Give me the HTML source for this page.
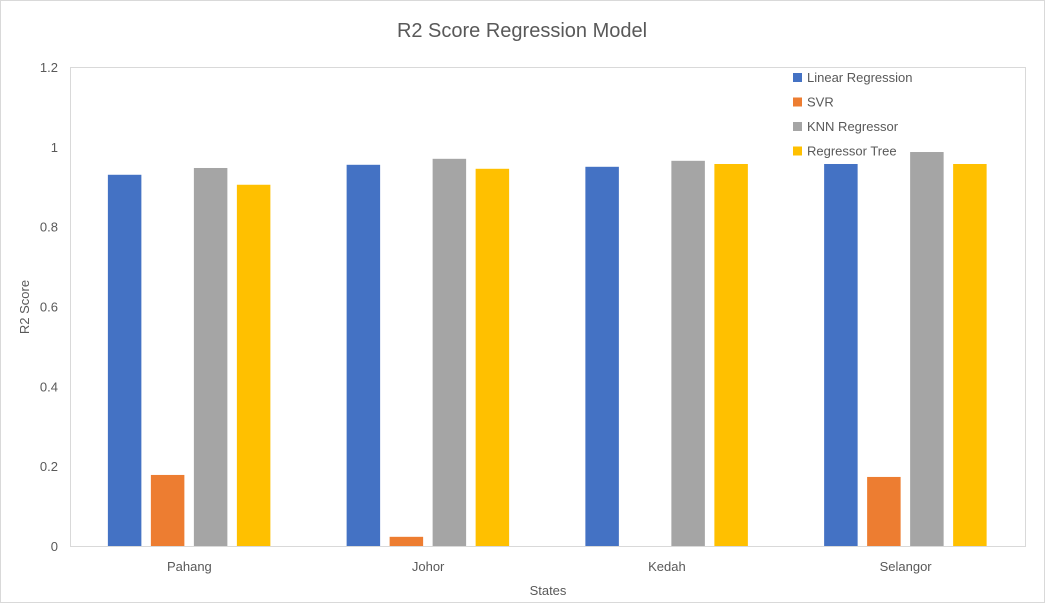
<!DOCTYPE html>
<html><head><meta charset="utf-8"><style>
body{margin:0;background:#fff;font-family:"Liberation Sans",sans-serif}
svg text{font-family:"Liberation Sans",sans-serif;fill:#595959}
</style></head><body>
<svg id="c" width="1045" height="603">
<rect x="0.5" y="0.5" width="1044" height="602" fill="#fff" stroke="#d9d9d9"/>
<text x="522" y="37" text-anchor="middle" font-size="20">R2 Score Regression Model</text>
<rect x="70.5" y="67.5" width="955" height="479" fill="none" stroke="#d9d9d9"/>
<text transform="translate(29,307) rotate(-90)" text-anchor="middle" font-size="13">R2 Score</text>
<text x="548" y="595" text-anchor="middle" font-size="13">States</text>
<g id="bars"></g><g id="ticks"></g><g id="legend"></g>
</svg>
<script>
const categories=["Pahang","Johor","Kedah","Selangor"];
const seriesNames=["Linear Regression","SVR","KNN Regressor","Regressor Tree"];
const linearRegression=[0.930,0.955,0.950,0.957];
const svr=[0.178,0.023,0,0.173];
const knn=[0.947,0.970,0.965,0.987];
const regressorTree=[0.905,0.945,0.957,0.957];
const yTicks=[0,0.2,0.4,0.6,0.8,1,1.2];
const tickLabels=["0","0.2","0.4","0.6","0.8","1","1.2"];
const colors=["#4472c4","#ed7d31","#a5a5a5","#ffc000"];
const series=[linearRegression,svr,knn,regressorTree];
const NS="http://www.w3.org/2000/svg";
const x0=70,x1=1025,y0=546,y1=67,yMax=1.2;
const y=v=>y0-(v/yMax)*(y0-y1);
const catW=(x1-x0)/categories.length;
const cx=i=>x0+catW*(i+0.5);
const bw=33.5,step=43;
function mk(t,a,p){const e=document.createElementNS(NS,t);for(const k in a)e.setAttribute(k,a[k]);p.appendChild(e);return e;}
const tg=document.getElementById('ticks');
yTicks.forEach((v,i)=>{const t=mk('text',{x:58,y:y(v)+5,'text-anchor':'end','font-size':13},tg);t.textContent=tickLabels[i];

});
categories.forEach((c,i)=>{const t=mk('text',{x:cx(i),y:571,'text-anchor':'middle','font-size':13},tg);t.textContent=c;

});
const bg=document.getElementById('bars');
series.forEach((s,j)=>s.forEach((v,i)=>{
const bx=cx(i)-2*step+4.5+j*step;
const r=mk('rect',{x:bx,y:y(v),width:bw,height:Math.max(0,y0-y(v)),fill:colors[j]},bg);


}));
const lg=document.getElementById('legend');
seriesNames.forEach((n,j)=>{
const yy=77+j*24.5;
const r=mk('rect',{x:793,y:yy-4,width:9,height:9,fill:colors[j]},lg);


const t=mk('text',{x:807,y:yy+5,'font-size':13},lg);t.textContent=n;


});
</script>
</body></html>
